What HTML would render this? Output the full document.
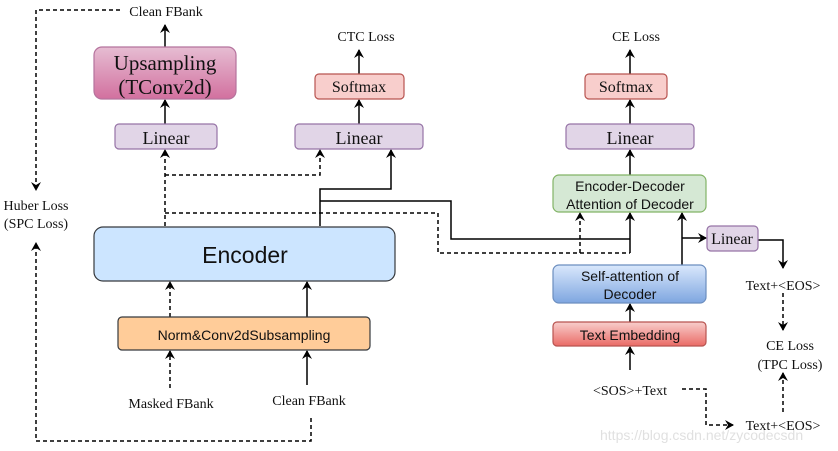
<!DOCTYPE html>
<html><head><meta charset="utf-8"><style>
body{margin:0;background:#fff;}
svg{display:block;}
.s{font-family:"Liberation Serif",serif;fill:#111;}
.a{font-family:"Liberation Sans",sans-serif;fill:#111;}
</style></head><body>
<svg width="838" height="451" viewBox="0 0 838 451" xmlns="http://www.w3.org/2000/svg">
<defs>
<marker id="ar" markerWidth="10" markerHeight="10" refX="8" refY="5" orient="auto" markerUnits="userSpaceOnUse">
<path d="M0,0 L9,5 L0,10 L3,5 Z" fill="#000"/></marker>
<linearGradient id="pk" x1="0" y1="0" x2="0" y2="1"><stop offset="0" stop-color="#e6bdd3"/><stop offset="1" stop-color="#d2709f"/></linearGradient>
<linearGradient id="bl" x1="0" y1="0" x2="0" y2="1"><stop offset="0" stop-color="#dae8fc"/><stop offset="1" stop-color="#7ea6e0"/></linearGradient>
<linearGradient id="rd" x1="0" y1="0" x2="0" y2="1"><stop offset="0" stop-color="#f8cecc"/><stop offset="1" stop-color="#ea6b66"/></linearGradient>
</defs>
<g fill="none" stroke="#000" stroke-width="1.5">
<path d="M120,10 H36 V190" stroke-dasharray="4,3" marker-end="url(#ar)"/>
<path d="M311,418 V441 H36 V243" stroke-dasharray="4,3" marker-end="url(#ar)"/>
<path d="M165,47 V25" marker-end="url(#ar)"/>
<path d="M165,124 V100" marker-end="url(#ar)"/>
<path d="M359,74 V50" marker-end="url(#ar)"/>
<path d="M359,124 V100" marker-end="url(#ar)"/>
<path d="M165,226 V150" stroke-dasharray="4,3" marker-end="url(#ar)"/>
<path d="M165,175 H320 V150" stroke-dasharray="4,3" marker-end="url(#ar)"/>
<path d="M320,226 V189 H391 V150" marker-end="url(#ar)"/>
<path d="M320,201 H451 V239 H630"/>
<path d="M165,213 H438 V253 H630" stroke-dasharray="4,3"/>
<path d="M580,253 V213" stroke-dasharray="4,3" marker-end="url(#ar)"/>
<path d="M630,253 V213" marker-end="url(#ar)"/>
<path d="M630,175 V150" marker-end="url(#ar)"/>
<path d="M630,124 V100" marker-end="url(#ar)"/>
<path d="M630,74 V50" marker-end="url(#ar)"/>
<path d="M682,265 V213" marker-end="url(#ar)"/>
<path d="M682,238 H706" marker-end="url(#ar)"/>
<path d="M758,240 H783 V268" marker-end="url(#ar)"/>
<path d="M783,293 V330" stroke-dasharray="4,3" marker-end="url(#ar)"/>
<path d="M783,412 V373" stroke-dasharray="4,3" marker-end="url(#ar)"/>
<path d="M682,389 H706 V425 H733" stroke-dasharray="4,3" marker-end="url(#ar)"/>
<path d="M630,322 V304" marker-end="url(#ar)"/>
<path d="M630,370 V347" marker-end="url(#ar)"/>
<path d="M170,388 V351" stroke-dasharray="4,3" marker-end="url(#ar)"/>
<path d="M307,385 V351" marker-end="url(#ar)"/>
<path d="M170,317 V282" stroke-dasharray="4,3" marker-end="url(#ar)"/>
<path d="M307,317 V282" marker-end="url(#ar)"/>
</g>
<g stroke-width="1.2">
<rect x="94" y="47" width="142" height="52" rx="8" fill="url(#pk)" stroke="#b5739d"/>
<rect x="115" y="124" width="102" height="25" rx="4" fill="#e1d5e7" stroke="#9673a6"/>
<rect x="315" y="74" width="89" height="25" rx="4" fill="#f8cecc" stroke="#b85450"/>
<rect x="295" y="124" width="128" height="25" rx="4" fill="#e1d5e7" stroke="#9673a6"/>
<rect x="585" y="74" width="82" height="25" rx="4" fill="#f8cecc" stroke="#b85450"/>
<rect x="566" y="124" width="128" height="25" rx="4" fill="#e1d5e7" stroke="#9673a6"/>
<rect x="553" y="175" width="153" height="37" rx="6" fill="#d5e8d4" stroke="#82b366"/>
<rect x="707" y="226" width="51" height="25" rx="4" fill="#e1d5e7" stroke="#9673a6"/>
<rect x="553" y="265" width="153" height="38" rx="6" fill="url(#bl)" stroke="#6c8ebf"/>
<rect x="553" y="322" width="153" height="24" rx="4" fill="url(#rd)" stroke="#b85450"/>
<rect x="94" y="227" width="301" height="54" rx="9" fill="#cce5ff" stroke="#36393d"/>
<rect x="118" y="317" width="252" height="33" rx="4" fill="#ffcc99" stroke="#36393d"/>
</g>
<g class="s" font-size="14" text-anchor="middle">
<text x="166" y="16">Clean FBank</text>
<text x="366" y="41">CTC Loss</text>
<text x="636" y="41">CE Loss</text>
<text x="36" y="210">Huber Loss</text>
<text x="36" y="228">(SPC Loss)</text>
<text x="171" y="408">Masked FBank</text>
<text x="309" y="405">Clean FBank</text>
<text x="783" y="290">Text+&lt;EOS&gt;</text>
<text x="790" y="350">CE Loss</text>
<text x="790" y="369">(TPC Loss)</text>
<text x="630" y="395">&lt;SOS&gt;+Text</text>
<text x="783" y="430">Text+&lt;EOS&gt;</text>
</g>
<g class="s" text-anchor="middle">
<text x="165" y="70" font-size="21">Upsampling</text>
<text x="165" y="94" font-size="21">(TConv2d)</text>
<text x="166" y="144" font-size="18">Linear</text>
<text x="359" y="92" font-size="16">Softmax</text>
<text x="359" y="144" font-size="18">Linear</text>
<text x="626" y="92" font-size="16">Softmax</text>
<text x="630" y="144" font-size="18">Linear</text>
<text x="732" y="244" font-size="16">Linear</text>
</g>
<g class="a" text-anchor="middle">
<text x="245" y="263" font-size="23">Encoder</text>
<text x="244" y="340" font-size="14">Norm&amp;Conv2dSubsampling</text>
<text x="630" y="191" font-size="14">Encoder-Decoder</text>
<text x="630" y="209" font-size="14">Attention of Decoder</text>
<text x="630" y="281" font-size="14">Self-attention of</text>
<text x="630" y="299" font-size="14">Decoder</text>
<text x="630" y="340" font-size="14">Text Embedding</text>
</g>
<text x="600" y="440" font-family="Liberation Sans,sans-serif" font-size="14" fill="#ccc" opacity="0.6">https://blog.csdn.net/zycodecsdn</text>
</svg>
</body></html>
